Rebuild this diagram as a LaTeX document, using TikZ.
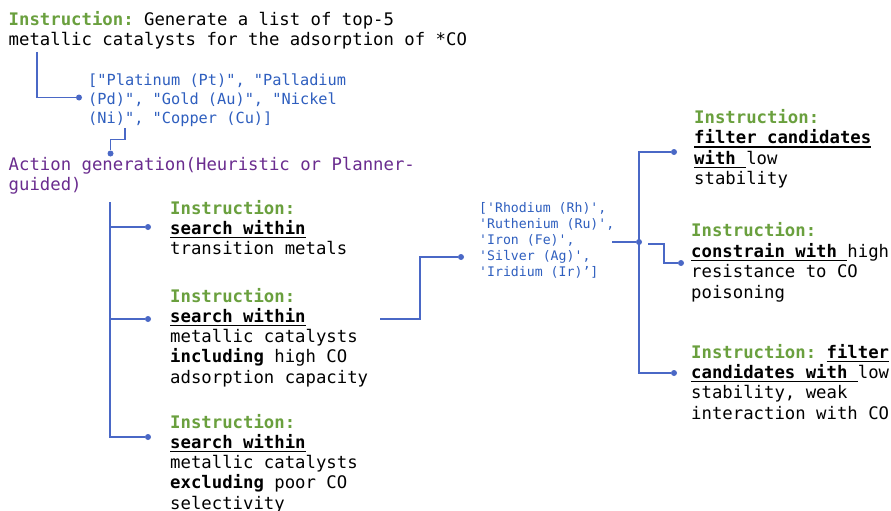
\documentclass[tikz,border=0pt]{standalone}
\usepackage{fontspec}
\setmonofont{DejaVu Sans Mono}
\definecolor{igreen}{HTML}{6AA03E}
\definecolor{tblue}{HTML}{2F5FBF}
\definecolor{lblue}{HTML}{4A68C6}
\definecolor{apurple}{HTML}{6A2C8F}
\newcommand\myul[1]{\leavevmode\setbox0\hbox{#1}\rlap{\rule[-3.8pt]{\wd0}{1.4pt}}\box0}
\newcommand\mytextbox[3]{\parbox[t]{600pt}{\ttfamily\fontsize{#1}{#2}\selectfont\raggedright #3}}
\newcommand\instrlbl{\leavevmode\textcolor{igreen}{\textbf{Instruction:}}}
\begin{document}
\begin{tikzpicture}[x=1pt,y=-1pt,
  conn/.style={draw=lblue, line width=1.3pt},
  bdot/.style={circle, fill=lblue, inner sep=0pt, minimum size=6pt},
  tnode/.style={anchor=base west, inner sep=0pt, font=\ttfamily}]
\useasboundingbox[fill=white] (0,0) rectangle (891,511);

% text nodes
\node[tnode] (top) at (8.5,26) {\mytextbox{17.3}{20}{\instrlbl{} Generate a list of top-5\\metallic catalysts for the adsorption of *CO}};
\node[tnode, text=tblue] (lst) at (88,85) {\mytextbox{15.3}{19}{["Platinum (Pt)", "Palladium\\(Pd)", "Gold (Au)", "Nickel\\(Ni)", "Copper (Cu)]}};
\node[tnode, text=apurple] (act) at (8.5,170) {\mytextbox{17.3}{20}{Action generation(Heuristic or Planner-\\guided)}};

\node[tnode] (n1) at (170,214.3) {\mytextbox{17.3}{20.3}{\instrlbl\\\myul{\textbf{search within}}\\transition metals}};
\node[tnode] (n2) at (170,302) {\mytextbox{17.3}{20.3}{\instrlbl\\\myul{\textbf{search within}}\\metallic catalysts\\\textbf{including} high CO\\adsorption capacity}};
\node[tnode] (n3) at (170,428) {\mytextbox{17.3}{20.3}{\instrlbl\\\myul{\textbf{search within}}\\metallic catalysts\\\textbf{excluding} poor CO\\selectivity}};

\node[tnode, text=tblue] (mid) at (479,212.3) {\mytextbox{13.2}{16.1}{['Rhodium (Rh)',\\'Ruthenium (Ru)',\\'Iron (Fe)',\\'Silver (Ag)',\\'Iridium (Ir)’]}};

\node[tnode] (ra) at (694,123.3) {\mytextbox{17.3}{20.5}{\instrlbl\\\myul{\textbf{filter candidates}}\\\myul{\textbf{with }}low\\stability}};
\node[tnode] (rb) at (691,236.7) {\mytextbox{17.3}{20.5}{\instrlbl\\\myul{\textbf{constrain with }}high\\resistance to CO\\poisoning}};
\node[tnode] (rc) at (691,358.3) {\mytextbox{17.3}{20.3}{\instrlbl{} \myul{\textbf{filter}}\\\myul{\textbf{candidates with }}low\\stability, weak\\interaction with CO}};

% dots
\node[bdot] (d1) at (79,97.5) {};
\node[bdot] (d2) at (110.5,153.5) {};
\node[bdot] (d3) at (148,227) {};
\node[bdot] (d4) at (148,319) {};
\node[bdot] (d5) at (148,437) {};
\node[bdot] (d6) at (461,257) {};
\node[bdot] (d7) at (639,242) {};
\node[bdot] (d8) at (674,152) {};
\node[bdot] (d9) at (674,373) {};
\node[bdot] (d10) at (681,263) {};

% connector start points
\coordinate (s1) at (37,52);
\coordinate (s2) at (125,128);
\coordinate (s3) at (110,202);
\coordinate (s4) at (380,319);
\coordinate (s5) at (612,242);
\coordinate (s6) at (648,244);

% connectors
\draw[conn] (s1) |- (d1);
\draw[conn] (s2) -- (125,139.5) -| (d2);
\draw[conn] (s3) |- (d5);
\draw[conn] (s3 |- d3) -- (d3);
\draw[conn] (s3 |- d4) -- (d4);
\draw[conn] (s4) -- (420,319) |- (d6);
\draw[conn] (s5) -- (d7);
\draw[conn] (d8) -- (d7 |- d8) -- (d7 |- d9) -- (d9);
\draw[conn] (s6) -- (664,244) |- (d10);
\end{tikzpicture}
\end{document}
